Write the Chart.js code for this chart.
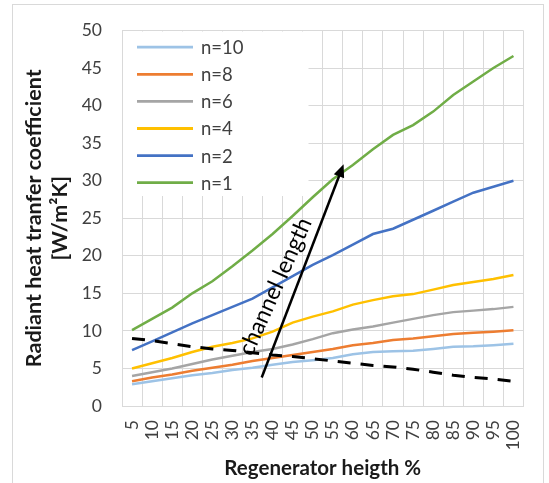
<!DOCTYPE html>
<html>
<head>
<meta charset="utf-8">
<script src="https://cdn.jsdelivr.net/npm/chart.js@4/dist/chart.umd.min.js"></script>
<style>
html,body{margin:0;padding:0;background:#fff;}
#wrap{width:549px;height:483px;}
</style>
</head>
<body>
<div id="wrap"><canvas id="c" width="549" height="483"></canvas></div>
<script>
// ---- data ----
const categories = ['5','10','15','20','25','30','35','40','45','50','55','60','65','70','75','80','85','90','95','100'];
const n10 = [2.9, 3.3, 3.7, 4.1, 4.4, 4.8, 5.1, 5.5, 5.85, 6.1, 6.4, 6.9, 7.2, 7.3, 7.35, 7.6, 7.9, 7.95, 8.1, 8.3];
const n8  = [3.3, 3.8, 4.2, 4.7, 5.1, 5.5, 6.0, 6.4, 6.8, 7.2, 7.6, 8.1, 8.4, 8.8, 9.0, 9.3, 9.6, 9.75, 9.9, 10.1];
const n6  = [4.0, 4.5, 5.0, 5.6, 6.2, 6.7, 7.2, 7.6, 8.2, 8.9, 9.7, 10.2, 10.6, 11.1, 11.6, 12.1, 12.5, 12.7, 12.9, 13.2];
const n4  = [5.0, 5.7, 6.4, 7.2, 7.9, 8.4, 9.0, 9.9, 11.1, 11.9, 12.6, 13.5, 14.1, 14.6, 14.9, 15.5, 16.1, 16.5, 16.9, 17.45];
const n2  = [7.45, 8.6, 9.8, 11.0, 12.1, 13.2, 14.3, 15.8, 17.3, 18.8, 20.1, 21.5, 22.9, 23.6, 24.8, 26.0, 27.2, 28.4, 29.2, 30.0];
const n1  = [10.1, 11.6, 13.1, 15.0, 16.6, 18.6, 20.7, 22.9, 25.3, 27.8, 30.2, 32.1, 34.2, 36.1, 37.4, 39.2, 41.4, 43.2, 45.0, 46.6];
const dashedTrend = [9.0, 8.7, 8.3, 7.9, 7.6, 7.4, 7.1, 6.8, 6.6, 6.3, 6.0, 5.7, 5.4, 5.2, 4.9, 4.5, 4.1, 3.8, 3.6, 3.3];
const seriesLabels = ['n=10', 'n=8', 'n=6', 'n=4', 'n=2', 'n=1'];
const yTicks = [0, 5, 10, 15, 20, 25, 30, 35, 40, 45, 50];
// annotation arrow in (regenerator height %, coefficient)
const arrowFrom = [37.3, 3.8];
const arrowTo = [57.7, 32.2];
const arrowLabel = 'channel length';
const arrowLabelAt = [40.7, 15.9];

const FONT = 'Lato, "Open Sans", sans-serif';
const colors = ['#9DC3E6', '#ED7D31', '#A5A5A5', '#FFC000', '#4472C4', '#70AD47'];
const seriesData = [n10, n8, n6, n4, n2, n1];

const pctToIdx = p => p / 5 - 1;

const datasets = seriesData.map((d, i) => ({
  label: seriesLabels[i],
  data: d,
  borderColor: colors[i],
  backgroundColor: colors[i],
  borderWidth: 2.5,
  pointRadius: 0,
  tension: 0,
  fill: false,
  order: 1
}));
datasets.push({
  label: 'trend',
  data: dashedTrend,
  borderColor: '#000',
  borderWidth: 3,
  borderDash: [13, 10],
  pointRadius: 0,
  tension: 0,
  fill: false,
  order: 0,
  hideInLegend: true
});

const outerBorder = {
  id: 'outerBorder',
  beforeDraw(chart) {
    const ctx = chart.ctx;
    ctx.save();
    ctx.fillStyle = '#fff';
    ctx.fillRect(0, 0, chart.width, chart.height);
    ctx.strokeStyle = '#d9d9d9';
    ctx.lineWidth = 1;
    ctx.strokeRect(12.5, 4.5, 531, 520);
    ctx.restore();
  }
};

const innerLegend = {
  id: 'innerLegend',
  beforeDatasetsDraw(chart) {
    const ca = chart.chartArea, ctx = chart.ctx;
    ctx.save();
    ctx.fillStyle = '#fff';
    ctx.fillRect(ca.left + 1, ca.top + 1, 185.5, 164.5);
    ctx.font = '18.5px ' + FONT;
    ctx.textBaseline = 'middle';
    ctx.textAlign = 'left';
    let k = 0;
    chart.data.datasets.forEach(ds => {
      if (ds.hideInLegend) return;
      const y = ca.top + 16.7 + k * 27.1;
      ctx.strokeStyle = ds.borderColor;
      ctx.lineWidth = 2.8;
      ctx.beginPath();
      ctx.moveTo(ca.left + 15, y);
      ctx.lineTo(ca.left + 71, y);
      ctx.stroke();
      ctx.fillStyle = '#404040';
      ctx.fillText(ds.label, ca.left + 79, y + 1);
      k++;
    });
    ctx.restore();
  }
};

const arrowPlugin = {
  id: 'arrowPlugin',
  afterDatasetsDraw(chart) {
    const xs = chart.scales.x, ys = chart.scales.y, ctx = chart.ctx;
    const x1 = xs.getPixelForValue(pctToIdx(arrowFrom[0])), y1 = ys.getPixelForValue(arrowFrom[1]);
    const x2 = xs.getPixelForValue(pctToIdx(arrowTo[0])), y2 = ys.getPixelForValue(arrowTo[1]);
    const ang = Math.atan2(y2 - y1, x2 - x1);
    const headLen = 13, headW = 5.5;
    ctx.save();
    ctx.strokeStyle = '#000';
    ctx.fillStyle = '#000';
    ctx.lineWidth = 2.5;
    ctx.beginPath();
    ctx.moveTo(x1, y1);
    ctx.lineTo(x2 - Math.cos(ang) * (headLen - 2), y2 - Math.sin(ang) * (headLen - 2));
    ctx.stroke();
    ctx.beginPath();
    const bx = x2 - Math.cos(ang) * headLen, by = y2 - Math.sin(ang) * headLen;
    ctx.moveTo(x2, y2);
    ctx.lineTo(bx + Math.sin(ang) * headW, by - Math.cos(ang) * headW);
    ctx.lineTo(bx - Math.sin(ang) * headW, by + Math.cos(ang) * headW);
    ctx.closePath();
    ctx.fill();
    // label
    const tx = xs.getPixelForValue(pctToIdx(arrowLabelAt[0])), ty = ys.getPixelForValue(arrowLabelAt[1]);
    ctx.translate(tx, ty);
    ctx.rotate(-66 * Math.PI / 180);
    ctx.font = '23px ' + FONT;
    ctx.textAlign = 'center';
    ctx.textBaseline = 'middle';
    ctx.fillStyle = '#000';
    ctx.fillText(arrowLabel, 0, 0);
    ctx.restore();
  }
};

new Chart(document.getElementById('c'), {
  type: 'line',
  data: { labels: categories, datasets },
  options: {
    responsive: false,
    devicePixelRatio: 1,
    animation: false,
    layout: { padding: { top: 24, right: 22, bottom: 0, left: 0 } },
    plugins: { legend: { display: false }, tooltip: { enabled: false } },
    scales: {
      x: {
        type: 'category',
        offset: true,
        grid: { offset: true, color: '#d9d9d9', lineWidth: 1, drawTicks: false },
        border: { display: true, color: '#d9d9d9' },
        ticks: {
          autoSkip: false, minRotation: 90, maxRotation: 90, padding: 14,
          color: '#404040', font: { family: FONT, size: 17.5 }
        },
        title: {
          display: true, text: 'Regenerator heigth %', color: '#1a1a1a',
          font: { family: FONT, size: 20.5, weight: 'bold' },
          padding: { top: 0, bottom: 2.7 }
        },
        afterFit(scale) { scale.height = 77; }
      },
      y: {
        min: 0, max: 50,
        afterBuildTicks(scale) { scale.ticks = yTicks.map(v => ({ value: v })); },
        grid: { color: '#d9d9d9', lineWidth: 1, drawTicks: false },
        border: { display: true, color: '#d9d9d9' },
        ticks: { padding: 20, color: '#404040', font: { family: FONT, size: 17.5 } },
        title: {
          display: true, text: ['Radiant heat tranfer coefficient', '[W/m\u00B2K]'], color: '#1a1a1a',
          font: { family: FONT, size: 21.5, weight: 'bold', lineHeight: 1.19 },
          padding: { top: 21.75, bottom: 0 }
        },
        afterFit(scale) { scale.width = 122; }
      }
    }
  },
  plugins: [outerBorder, innerLegend, arrowPlugin]
});
</script>
</body>
</html>
